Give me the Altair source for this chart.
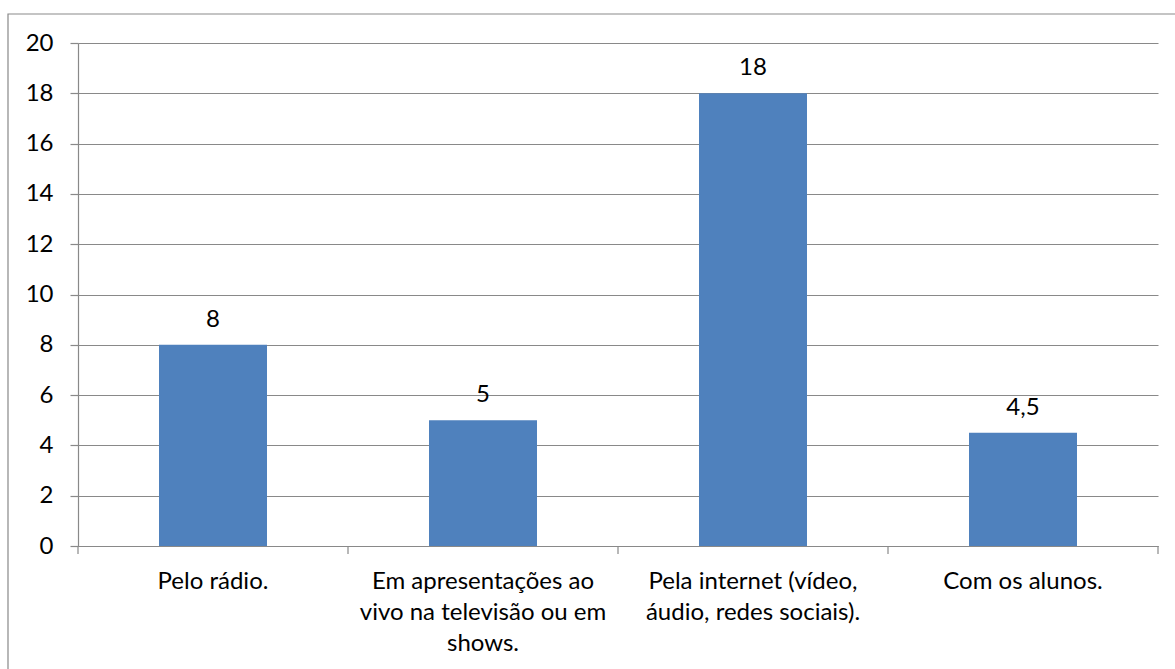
import altair as alt
import pandas as pd

# Survey answers: where the music is heard
categories = [
    "Pelo rádio.",
    "Em apresentações ao|vivo na televisão ou em|shows.",
    "Pela internet (vídeo,|áudio, redes sociais).",
    "Com os alunos.",
]
values = [8, 5, 18, 4.5]
y_ticks = [0, 2, 4, 6, 8, 10, 12, 14, 16, 18, 20]

df = pd.DataFrame({"categoria": categories, "valor": values})
df["rotulo"] = [f"{v:g}".replace(".", ",") for v in values]

# category boundaries for the x-axis tick marks
bounds = pd.DataFrame({"b": list(range(len(categories) + 1))})

W, H = 1080, 503
FONT = "Lato"
FS = 24
GRAY = "#898989"
BLUE = "#4F81BD"

x_band = alt.X(
    "categoria:N",
    sort=categories,
    scale=alt.Scale(paddingInner=0.6, paddingOuter=0.3),
    axis=alt.Axis(
        title=None,
        labelAngle=0,
        labelExpr="split(datum.label, '|')",
        labelFont=FONT,
        labelFontSize=FS,
        labelColor="#000000",
        labelLimit=1000,
        labelPadding=23,
        labelLineHeight=31,
        labelBaseline="top",
        ticks=False,
        domainColor=GRAY,
        domainWidth=1.2,
        grid=False,
    ),
)

y_val = alt.Y(
    "valor:Q",
    scale=alt.Scale(domain=[0, 20], nice=False),
    axis=alt.Axis(
        title=None,
        values=y_ticks,
        labelFont=FONT,
        labelFontSize=FS,
        labelColor="#000000",
        labelPadding=17,
        tickSize=8,
        tickColor=GRAY,
        tickWidth=1.2,
        domainColor=GRAY,
        domainWidth=1.2,
        gridColor=GRAY,
        gridWidth=1.2,
        gridOpacity=1,
    ),
)

bars = alt.Chart(df).mark_bar(color=BLUE).encode(x=x_band, y=y_val)

labels = alt.Chart(df).mark_text(
    font=FONT, fontSize=FS, color="#000000", baseline="alphabetic", dy=-18
).encode(x=alt.X("categoria:N", sort=categories), y="valor:Q", text="rotulo:N")

ticks = alt.Chart(bounds).mark_rule(color=GRAY, strokeWidth=1.2).encode(
    x=alt.X("b:Q", scale=alt.Scale(domain=[0, len(categories)], nice=False), axis=None),
    y=alt.value(H),
    y2=alt.value(H + 8),
)

frame = alt.Chart(pd.DataFrame({"f": [0]})).mark_rect(
    fill=None, stroke=GRAY, strokeWidth=1.2
).encode(
    x=alt.value(-70),
    x2=alt.value(W + 40),
    y=alt.value(-29),
    y2=alt.value(H + 140),
)

bar_layer = alt.layer(bars, labels)

chart = (
    alt.layer(frame, bar_layer, ticks)
    .resolve_scale(x="independent")
    .properties(
        width=W,
        height=H,
        autosize=alt.AutoSizeParams(type="none"),
        padding={"left": 78, "top": 43, "right": 17, "bottom": 123},
        background="#ffffff",
    )
    .configure_view(stroke=None)
)

chart.save("out.html", embed_options={"renderer": "svg", "actions": False})
